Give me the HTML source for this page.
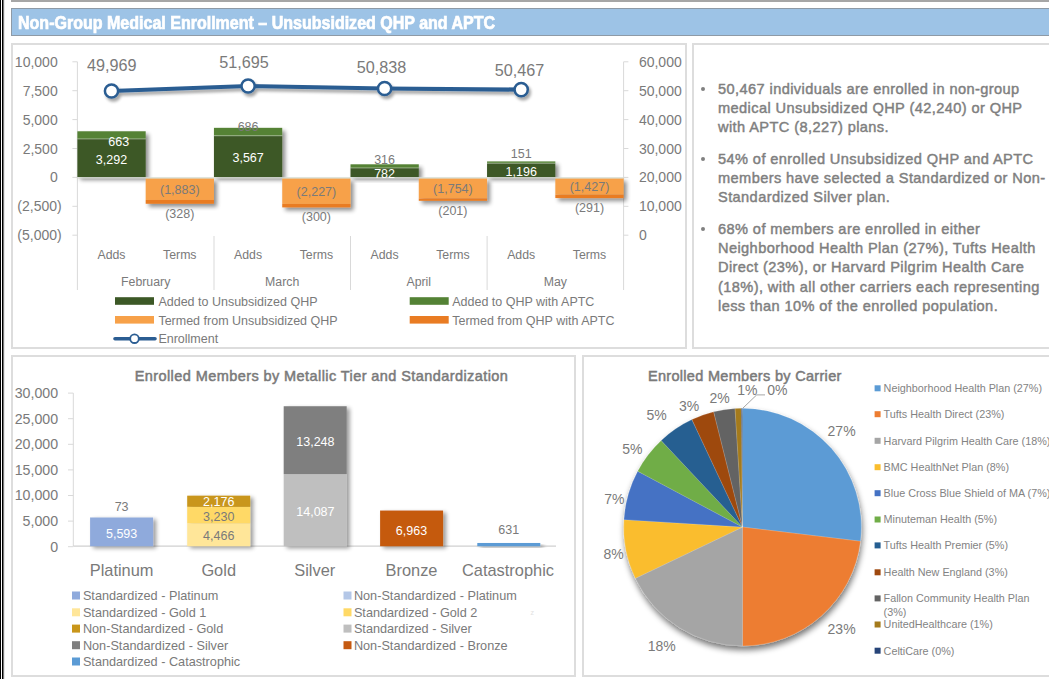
<!DOCTYPE html>
<html><head><meta charset="utf-8">
<style>
html,body{margin:0;padding:0;background:#fff;}
body{width:1049px;height:679px;position:relative;overflow:hidden;font-family:"Liberation Sans",sans-serif;}
.abs{position:absolute;}
.panel{position:absolute;border:2px solid #dddddd;box-sizing:border-box;background:#fff;}
svg text{font-family:"Liberation Sans",sans-serif;}
.bul{position:absolute;left:718px;font-weight:normal;font-size:14.6px;letter-spacing:0.4px;-webkit-text-stroke:0.45px #7f7f7f;line-height:19.2px;color:#7f7f7f;white-space:nowrap;}
</style></head>
<body>
<div class="abs" style="left:0;top:0;width:1px;height:679px;background:#000;"></div>
<div class="abs" style="left:2px;top:0;width:1px;height:679px;background:#000;"></div>
<div class="abs" style="left:3px;top:0;width:1px;height:679px;background:#7a7a7a;"></div>
<div class="abs" style="left:4px;top:0;width:1px;height:679px;background:#e8e8e8;"></div>
<div class="abs" style="left:11px;top:0;width:1038px;height:2px;background:#a6a6a6;"></div>
<div class="abs" style="left:11px;top:8px;width:1045px;height:28px;box-sizing:border-box;border:1px solid #8e9aa6;background:#9dc3e6;"></div>
<div class="abs" style="left:18px;top:13px;font-weight:bold;font-size:17.8px;line-height:20px;color:#fff;white-space:nowrap;transform-origin:0 0;transform:scaleX(0.901);-webkit-text-stroke:0.7px #fff;">Non-Group Medical Enrollment – Unsubsidized QHP and APTC</div>
<div class="panel" style="left:11px;top:43px;width:676px;height:306px;"></div>
<div class="panel" style="left:692px;top:43px;width:400px;height:306px;"></div>
<div class="panel" style="left:11px;top:355px;width:565px;height:322px;"></div>
<div class="panel" style="left:582px;top:355px;width:500px;height:322px;"></div>
<div class="abs" style="left:700px;top:81px;width:6px;height:6px;"></div>
<div class="bul" style="top:79.5px;">50,467 individuals are enrolled in non-group<br>medical Unsubsidized QHP (42,240) or QHP<br>with APTC (8,227) plans.</div>
<div class="bul" style="top:149.8px;">54% of enrolled Unsubsidized QHP and APTC<br>members have selected a Standardized or Non-<br>Standardized Silver plan.</div>
<div class="bul" style="top:220px;">68% of members are enrolled in either<br>Neighborhood Health Plan (27%), Tufts Health<br>Direct (23%), or Harvard Pilgrim Health Care<br>(18%), with all other carriers each representing<br>less than 10% of the enrolled population.</div>
<div class="abs" style="left:701px;top:87px;width:4px;height:4px;border-radius:50%;background:#808080;"></div>
<div class="abs" style="left:701px;top:157px;width:4px;height:4px;border-radius:50%;background:#808080;"></div>
<div class="abs" style="left:701px;top:227px;width:4px;height:4px;border-radius:50%;background:#808080;"></div>
<svg class="abs" style="left:0;top:0" width="1049" height="679" viewBox="0 0 1049 679">
<line x1="77.4" y1="61.8" x2="77.4" y2="290" stroke="#d9d9d9" stroke-width="1"/>
<line x1="623.6" y1="61.8" x2="623.6" y2="290" stroke="#d9d9d9" stroke-width="1"/>
<line x1="72.4" y1="61.8" x2="77.4" y2="61.8" stroke="#d9d9d9" stroke-width="1"/>
<line x1="623.6" y1="61.8" x2="628.4" y2="61.8" stroke="#d9d9d9" stroke-width="1"/>
<line x1="72.4" y1="90.7" x2="77.4" y2="90.7" stroke="#d9d9d9" stroke-width="1"/>
<line x1="623.6" y1="90.7" x2="628.4" y2="90.7" stroke="#d9d9d9" stroke-width="1"/>
<line x1="72.4" y1="119.6" x2="77.4" y2="119.6" stroke="#d9d9d9" stroke-width="1"/>
<line x1="623.6" y1="119.6" x2="628.4" y2="119.6" stroke="#d9d9d9" stroke-width="1"/>
<line x1="72.4" y1="148.5" x2="77.4" y2="148.5" stroke="#d9d9d9" stroke-width="1"/>
<line x1="623.6" y1="148.5" x2="628.4" y2="148.5" stroke="#d9d9d9" stroke-width="1"/>
<line x1="72.4" y1="177.4" x2="77.4" y2="177.4" stroke="#d9d9d9" stroke-width="1"/>
<line x1="623.6" y1="177.4" x2="628.4" y2="177.4" stroke="#d9d9d9" stroke-width="1"/>
<line x1="72.4" y1="206.3" x2="77.4" y2="206.3" stroke="#d9d9d9" stroke-width="1"/>
<line x1="623.6" y1="206.3" x2="628.4" y2="206.3" stroke="#d9d9d9" stroke-width="1"/>
<line x1="72.4" y1="235.2" x2="77.4" y2="235.2" stroke="#d9d9d9" stroke-width="1"/>
<line x1="623.6" y1="235.2" x2="628.4" y2="235.2" stroke="#d9d9d9" stroke-width="1"/>
<text x="57.7" y="66.8" font-size="14" fill="#7a7a7a" text-anchor="end">10,000</text>
<text x="57.7" y="95.7" font-size="14" fill="#7a7a7a" text-anchor="end">7,500</text>
<text x="57.7" y="124.6" font-size="14" fill="#7a7a7a" text-anchor="end">5,000</text>
<text x="57.7" y="153.5" font-size="14" fill="#7a7a7a" text-anchor="end">2,500</text>
<text x="57.7" y="182.4" font-size="14" fill="#7a7a7a" text-anchor="end">0</text>
<text x="61.7" y="211.3" font-size="14" fill="#7a7a7a" text-anchor="end">(2,500)</text>
<text x="61.7" y="240.2" font-size="14" fill="#7a7a7a" text-anchor="end">(5,000)</text>
<text x="638.9" y="66.8" font-size="14" fill="#7a7a7a">60,000</text>
<text x="638.9" y="95.7" font-size="14" fill="#7a7a7a">50,000</text>
<text x="638.9" y="124.6" font-size="14" fill="#7a7a7a">40,000</text>
<text x="638.9" y="153.5" font-size="14" fill="#7a7a7a">30,000</text>
<text x="638.9" y="182.4" font-size="14" fill="#7a7a7a">20,000</text>
<text x="638.9" y="211.3" font-size="14" fill="#7a7a7a">10,000</text>
<text x="638.9" y="240.2" font-size="14" fill="#7a7a7a">0</text>
<line x1="214.0" y1="236" x2="214.0" y2="290" stroke="#d9d9d9" stroke-width="1"/>
<line x1="350.5" y1="236" x2="350.5" y2="290" stroke="#d9d9d9" stroke-width="1"/>
<line x1="487.1" y1="236" x2="487.1" y2="290" stroke="#d9d9d9" stroke-width="1"/>
<defs><filter id="sh" x="-20%" y="-20%" width="150%" height="160%"><feGaussianBlur in="SourceAlpha" stdDeviation="2"/><feOffset dx="3" dy="3"/><feComponentTransfer><feFuncA type="linear" slope="0.45"/></feComponentTransfer><feMerge><feMergeNode/><feMergeNode in="SourceGraphic"/></feMerge></filter></defs>
<g filter="url(#sh)">
<rect x="77.40" y="138.94" width="68.28" height="38.06" fill="#3c5826"/>
<rect x="77.40" y="131.28" width="68.28" height="7.66" fill="#548235"/>
<line x1="77.40" y1="138.94" x2="145.68" y2="138.94" stroke="#ffffff" stroke-opacity="0.45" stroke-width="0.9"/>
</g><g filter="url(#sh)">
<rect x="145.68" y="178.20" width="68.28" height="21.77" fill="#f7a149"/>
<rect x="145.68" y="199.97" width="68.28" height="3.79" fill="#e97c23"/>
</g>
<g filter="url(#sh)">
<rect x="213.95" y="135.77" width="68.28" height="41.23" fill="#3c5826"/>
<rect x="213.95" y="127.84" width="68.28" height="7.93" fill="#548235"/>
<line x1="213.95" y1="135.77" x2="282.23" y2="135.77" stroke="#ffffff" stroke-opacity="0.45" stroke-width="0.9"/>
</g><g filter="url(#sh)">
<rect x="282.23" y="178.20" width="68.28" height="25.74" fill="#f7a149"/>
<rect x="282.23" y="203.94" width="68.28" height="3.47" fill="#e97c23"/>
</g>
<g filter="url(#sh)">
<rect x="350.50" y="167.96" width="68.28" height="9.04" fill="#3c5826"/>
<rect x="350.50" y="164.31" width="68.28" height="3.65" fill="#548235"/>
<line x1="350.50" y1="167.96" x2="418.77" y2="167.96" stroke="#ffffff" stroke-opacity="0.45" stroke-width="0.9"/>
</g><g filter="url(#sh)">
<rect x="418.77" y="178.20" width="68.28" height="20.28" fill="#f7a149"/>
<rect x="418.77" y="198.48" width="68.28" height="2.32" fill="#e97c23"/>
</g>
<g filter="url(#sh)">
<rect x="487.05" y="163.17" width="68.28" height="13.83" fill="#3c5826"/>
<rect x="487.05" y="161.43" width="68.28" height="1.75" fill="#548235"/>
<line x1="487.05" y1="163.17" x2="555.33" y2="163.17" stroke="#ffffff" stroke-opacity="0.45" stroke-width="0.9"/>
</g><g filter="url(#sh)">
<rect x="555.33" y="178.20" width="68.28" height="16.50" fill="#f7a149"/>
<rect x="555.33" y="194.70" width="68.28" height="3.36" fill="#e97c23"/>
</g>
<line x1="77.4" y1="177.9" x2="623.6" y2="177.9" stroke="#d6dcd2" stroke-width="1.2"/>
<text x="111.5" y="163.8" font-size="12.5" fill="#fff" text-anchor="middle">3,292</text>
<text x="179.8" y="193.7" font-size="12.5" fill="#7a7a7a" text-anchor="middle">(1,883)</text>
<text x="179.8" y="217.8" font-size="12.5" fill="#7a7a7a" text-anchor="middle">(328)</text>
<text x="248.1" y="162.2" font-size="12.5" fill="#fff" text-anchor="middle">3,567</text>
<text x="316.4" y="195.7" font-size="12.5" fill="#7a7a7a" text-anchor="middle">(2,227)</text>
<text x="316.4" y="221.4" font-size="12.5" fill="#7a7a7a" text-anchor="middle">(300)</text>
<text x="384.6" y="178.3" font-size="12.5" fill="#fff" text-anchor="middle">782</text>
<text x="452.9" y="192.9" font-size="12.5" fill="#7a7a7a" text-anchor="middle">(1,754)</text>
<text x="452.9" y="214.8" font-size="12.5" fill="#7a7a7a" text-anchor="middle">(201)</text>
<text x="521.2" y="175.9" font-size="12.5" fill="#fff" text-anchor="middle">1,196</text>
<text x="589.5" y="191.0" font-size="12.5" fill="#7a7a7a" text-anchor="middle">(1,427)</text>
<text x="589.5" y="212.1" font-size="12.5" fill="#7a7a7a" text-anchor="middle">(291)</text>
<text x="118.7" y="146.0" font-size="12.5" fill="#fff" text-anchor="middle">663</text>
<text x="248.1" y="131.0" font-size="12.5" fill="#7a7a7a" text-anchor="middle">686</text>
<text x="384.6" y="164.0" font-size="12.5" fill="#7a7a7a" text-anchor="middle">316</text>
<text x="521.2" y="158.0" font-size="12.5" fill="#7a7a7a" text-anchor="middle">151</text>
<text x="111.5" y="258.8" font-size="12.3" fill="#7a7a7a" text-anchor="middle">Adds</text>
<text x="179.8" y="258.8" font-size="12.3" fill="#7a7a7a" text-anchor="middle">Terms</text>
<text x="145.7" y="285.7" font-size="12.3" fill="#7a7a7a" text-anchor="middle">February</text>
<text x="248.1" y="258.8" font-size="12.3" fill="#7a7a7a" text-anchor="middle">Adds</text>
<text x="316.4" y="258.8" font-size="12.3" fill="#7a7a7a" text-anchor="middle">Terms</text>
<text x="282.2" y="285.7" font-size="12.3" fill="#7a7a7a" text-anchor="middle">March</text>
<text x="384.6" y="258.8" font-size="12.3" fill="#7a7a7a" text-anchor="middle">Adds</text>
<text x="452.9" y="258.8" font-size="12.3" fill="#7a7a7a" text-anchor="middle">Terms</text>
<text x="418.8" y="285.7" font-size="12.3" fill="#7a7a7a" text-anchor="middle">April</text>
<text x="521.2" y="258.8" font-size="12.3" fill="#7a7a7a" text-anchor="middle">Adds</text>
<text x="589.5" y="258.8" font-size="12.3" fill="#7a7a7a" text-anchor="middle">Terms</text>
<text x="555.3" y="285.7" font-size="12.3" fill="#7a7a7a" text-anchor="middle">May</text>
<filter id="lsh" x="-10%" y="-50%" width="120%" height="200%"><feGaussianBlur in="SourceAlpha" stdDeviation="1.5"/><feOffset dx="2" dy="3"/><feComponentTransfer><feFuncA type="linear" slope="0.35"/></feComponentTransfer><feMerge><feMergeNode/><feMergeNode in="SourceGraphic"/></feMerge></filter>
<g filter="url(#lsh)"><path d="M111.5,91.0 L248.1,86.0 L384.6,88.5 L521.2,89.6" fill="none" stroke="#2b5d92" stroke-width="4.2"/>
<circle cx="111.5" cy="91.0" r="6.6" fill="#fff" stroke="#2b5d92" stroke-width="2.5"/>
<circle cx="248.1" cy="86.0" r="6.6" fill="#fff" stroke="#2b5d92" stroke-width="2.5"/>
<circle cx="384.6" cy="88.5" r="6.6" fill="#fff" stroke="#2b5d92" stroke-width="2.5"/>
<circle cx="521.2" cy="89.6" r="6.6" fill="#fff" stroke="#2b5d92" stroke-width="2.5"/>
</g>
<text x="111.8" y="70.6" font-size="16.2" fill="#7a7a7a" text-anchor="middle">49,969</text>
<text x="244.1" y="68.1" font-size="16.2" fill="#7a7a7a" text-anchor="middle">51,695</text>
<text x="381.6" y="72.7" font-size="16.2" fill="#7a7a7a" text-anchor="middle">50,838</text>
<text x="519.4" y="75.6" font-size="16.2" fill="#7a7a7a" text-anchor="middle">50,467</text>
<rect x="115" y="297.2" width="39" height="7.6" fill="#3c5826"/>
<text x="158.4" y="305.7" font-size="12.5" fill="#7a7a7a">Added to Unsubsidized QHP</text>
<rect x="115" y="316" width="39" height="7.6" fill="#f7a149"/>
<text x="158.4" y="324.6" font-size="12.5" fill="#7a7a7a">Termed from Unsubsidized QHP</text>
<line x1="115" y1="338.7" x2="155" y2="338.7" stroke="#2b5d92" stroke-width="3.6" stroke-linecap="round"/><circle cx="134.5" cy="338.7" r="4.3" fill="#fff" stroke="#2b5d92" stroke-width="1.8"/>
<text x="158.4" y="342.6" font-size="12.5" fill="#7a7a7a">Enrollment</text>
<rect x="409.7" y="297.2" width="39" height="7.6" fill="#548235"/>
<text x="452.2" y="305.7" font-size="12.5" fill="#7a7a7a">Added to QHP with APTC</text>
<rect x="409.7" y="316" width="39" height="7.6" fill="#e97c23"/>
<text x="452.2" y="324.6" font-size="12.5" fill="#7a7a7a">Termed from QHP with APTC</text>
<line x1="73.3" y1="393.1" x2="73.3" y2="546.2" stroke="#d9d9d9" stroke-width="1"/>
<line x1="73.3" y1="546.2" x2="556" y2="546.2" stroke="#d0d0d0" stroke-width="1.2"/>
<line x1="68" y1="393.1" x2="73.3" y2="393.1" stroke="#d9d9d9" stroke-width="1"/>
<text x="58.1" y="398.0" font-size="14.2" fill="#7a7a7a" text-anchor="end">30,000</text>
<line x1="68" y1="418.7" x2="73.3" y2="418.7" stroke="#d9d9d9" stroke-width="1"/>
<text x="58.1" y="423.6" font-size="14.2" fill="#7a7a7a" text-anchor="end">25,000</text>
<line x1="68" y1="444.3" x2="73.3" y2="444.3" stroke="#d9d9d9" stroke-width="1"/>
<text x="58.1" y="449.2" font-size="14.2" fill="#7a7a7a" text-anchor="end">20,000</text>
<line x1="68" y1="469.9" x2="73.3" y2="469.9" stroke="#d9d9d9" stroke-width="1"/>
<text x="58.1" y="474.8" font-size="14.2" fill="#7a7a7a" text-anchor="end">15,000</text>
<line x1="68" y1="495.5" x2="73.3" y2="495.5" stroke="#d9d9d9" stroke-width="1"/>
<text x="58.1" y="500.4" font-size="14.2" fill="#7a7a7a" text-anchor="end">10,000</text>
<line x1="68" y1="521.1" x2="73.3" y2="521.1" stroke="#d9d9d9" stroke-width="1"/>
<text x="58.1" y="526.0" font-size="14.2" fill="#7a7a7a" text-anchor="end">5,000</text>
<line x1="68" y1="546.7" x2="73.3" y2="546.7" stroke="#d9d9d9" stroke-width="1"/>
<text x="58.1" y="551.6" font-size="14.2" fill="#7a7a7a" text-anchor="end">0</text>
<filter id="bsh" x="-20%" y="-20%" width="150%" height="150%"><feGaussianBlur in="SourceAlpha" stdDeviation="2"/><feOffset dx="3" dy="2"/><feComponentTransfer><feFuncA type="linear" slope="0.4"/></feComponentTransfer><feMerge><feMergeNode/><feMergeNode in="SourceGraphic"/></feMerge></filter>
<g filter="url(#bsh)">
<rect x="90.1" y="517.56" width="63" height="28.64" fill="#8faadc"/>
<rect x="90.1" y="517.19" width="63" height="0.37" fill="#b4c7e7"/>
</g>
<g filter="url(#bsh)">
<rect x="187.2" y="523.33" width="63" height="22.87" fill="#ffe699"/>
<rect x="187.2" y="506.80" width="63" height="16.54" fill="#ffd966"/>
<rect x="187.2" y="495.66" width="63" height="11.14" fill="#c9961a"/>
</g>
<g filter="url(#bsh)">
<rect x="283.7" y="474.07" width="63" height="72.13" fill="#bfbfbf"/>
<rect x="283.7" y="406.24" width="63" height="67.83" fill="#7f7f7f"/>
</g>
<g filter="url(#bsh)">
<rect x="380.1" y="510.55" width="63" height="35.65" fill="#c55a11"/>
</g>
<g filter="url(#bsh)">
<rect x="477.3" y="542.97" width="63" height="3.23" fill="#5b9bd5"/>
</g>
<text x="121.6" y="537.5" font-size="12.5" fill="#fff" text-anchor="middle">5,593</text>
<text x="121.6" y="511" font-size="12.5" fill="#7a7a7a" text-anchor="middle">73</text>
<text x="218.7" y="540" font-size="12.5" fill="#7a7a7a" text-anchor="middle">4,466</text>
<text x="218.7" y="520.8" font-size="12.5" fill="#7a7a7a" text-anchor="middle">3,230</text>
<text x="218.7" y="506.4" font-size="12.5" fill="#fff" text-anchor="middle">2,176</text>
<text x="315.4" y="446" font-size="12.5" fill="#fff" text-anchor="middle">13,248</text>
<text x="315.4" y="516" font-size="12.5" fill="#fff" text-anchor="middle">14,087</text>
<text x="411.5" y="534.5" font-size="12.5" fill="#fff" text-anchor="middle">6,963</text>
<text x="508.7" y="534" font-size="12.5" fill="#7a7a7a" text-anchor="middle">631</text>
<text x="121.6" y="575.6" font-size="16.4" fill="#7a7a7a" text-anchor="middle">Platinum</text>
<text x="218.7" y="575.6" font-size="16.4" fill="#7a7a7a" text-anchor="middle">Gold</text>
<text x="314.8" y="575.6" font-size="16.4" fill="#7a7a7a" text-anchor="middle">Silver</text>
<text x="411.5" y="575.6" font-size="16.4" fill="#7a7a7a" text-anchor="middle">Bronze</text>
<text x="508" y="575.6" font-size="16.4" fill="#7a7a7a" text-anchor="middle">Catastrophic</text>
<text x="321.5" y="381" font-size="14.5" letter-spacing="0.42" stroke="#7a7a7a" stroke-width="0.5" fill="#7a7a7a" text-anchor="middle">Enrolled Members by Metallic Tier and Standardization</text>
<rect x="72" y="591.5" width="8" height="8" fill="#8faadc"/><text x="82.9" y="599.9" font-size="12.7" fill="#7a7a7a">Standardized - Platinum</text>
<rect x="72" y="608.3" width="8" height="8" fill="#ffe699"/><text x="82.9" y="616.6999999999999" font-size="12.7" fill="#7a7a7a">Standardized - Gold 1</text>
<rect x="72" y="624.6" width="8" height="8" fill="#c9961a"/><text x="82.9" y="633.0" font-size="12.7" fill="#7a7a7a">Non-Standardized - Gold</text>
<rect x="72" y="641.2" width="8" height="8" fill="#7f7f7f"/><text x="82.9" y="649.6" font-size="12.7" fill="#7a7a7a">Non-Standardized - Silver</text>
<rect x="72" y="657.5" width="8" height="8" fill="#5b9bd5"/><text x="82.9" y="665.9" font-size="12.7" fill="#7a7a7a">Standardized - Catastrophic</text>
<rect x="343.5" y="591.5" width="8" height="8" fill="#b4c7e7"/><text x="353.9" y="599.9" font-size="12.7" fill="#7a7a7a">Non-Standardized - Platinum</text>
<rect x="343.5" y="608.3" width="8" height="8" fill="#ffd966"/><text x="353.9" y="616.6999999999999" font-size="12.7" fill="#7a7a7a">Standardized - Gold 2</text>
<rect x="343.5" y="624.6" width="8" height="8" fill="#bfbfbf"/><text x="353.9" y="633.0" font-size="12.7" fill="#7a7a7a">Standardized - Silver</text>
<rect x="343.5" y="641.2" width="8" height="8" fill="#c55a11"/><text x="353.9" y="649.6" font-size="12.7" fill="#7a7a7a">Non-Standardized - Bronze</text>
<filter id="psh" x="-20%" y="-20%" width="140%" height="140%"><feGaussianBlur in="SourceAlpha" stdDeviation="3.2"/><feOffset dx="1" dy="4"/><feComponentTransfer><feFuncA type="linear" slope="0.55"/></feComponentTransfer><feMerge><feMergeNode/><feMergeNode in="SourceGraphic"/></feMerge></filter>
<g filter="url(#psh)">
<path d="M742.5,527.1 L742.50,408.30 A118.8,118.8 0 0 1 860.45,541.25 Z" fill="#5b9bd5" stroke="#fff" stroke-width="0.3" stroke-opacity="0.5"/>
<path d="M742.5,527.1 L860.45,541.25 A118.8,118.8 0 0 1 742.50,645.90 Z" fill="#ed7d31" stroke="#fff" stroke-width="0.3" stroke-opacity="0.5"/>
<path d="M742.5,527.1 L742.50,645.90 A118.8,118.8 0 0 1 635.33,578.36 Z" fill="#a5a5a5" stroke="#fff" stroke-width="0.3" stroke-opacity="0.5"/>
<path d="M742.5,527.1 L635.33,578.36 A118.8,118.8 0 0 1 623.93,519.64 Z" fill="#fabd2d" stroke="#fff" stroke-width="0.3" stroke-opacity="0.5"/>
<path d="M742.5,527.1 L623.93,519.64 A118.8,118.8 0 0 1 637.68,471.18 Z" fill="#4472c4" stroke="#fff" stroke-width="0.3" stroke-opacity="0.5"/>
<path d="M742.5,527.1 L637.68,471.18 A118.8,118.8 0 0 1 661.18,440.50 Z" fill="#70ad47" stroke="#fff" stroke-width="0.3" stroke-opacity="0.5"/>
<path d="M742.5,527.1 L661.18,440.50 A118.8,118.8 0 0 1 691.92,419.61 Z" fill="#255e91" stroke="#fff" stroke-width="0.3" stroke-opacity="0.5"/>
<path d="M742.5,527.1 L691.92,419.61 A118.8,118.8 0 0 1 713.68,411.85 Z" fill="#9e480e" stroke="#fff" stroke-width="0.3" stroke-opacity="0.5"/>
<path d="M742.5,527.1 L713.68,411.85 A118.8,118.8 0 0 1 735.04,408.53 Z" fill="#636363" stroke="#fff" stroke-width="0.3" stroke-opacity="0.5"/>
<path d="M742.5,527.1 L735.04,408.53 A118.8,118.8 0 0 1 741.38,408.31 Z" fill="#a47a1c" stroke="#fff" stroke-width="0.3" stroke-opacity="0.5"/>
<path d="M742.5,527.1 L741.38,408.31 A118.8,118.8 0 0 1 742.50,408.30 Z" fill="#264478" stroke="#fff" stroke-width="0.3" stroke-opacity="0.5"/>
</g>
<text x="841.6" y="436.4" font-size="14" fill="#7a7a7a" text-anchor="middle">27%</text>
<text x="841.6" y="633.5" font-size="14" fill="#7a7a7a" text-anchor="middle">23%</text>
<text x="661.7" y="650.8" font-size="14" fill="#7a7a7a" text-anchor="middle">18%</text>
<text x="613.7" y="559.3" font-size="14" fill="#7a7a7a" text-anchor="middle">8%</text>
<text x="614.3" y="503.7" font-size="14" fill="#7a7a7a" text-anchor="middle">7%</text>
<text x="632.3" y="453.7" font-size="14" fill="#7a7a7a" text-anchor="middle">5%</text>
<text x="656.6" y="420.2" font-size="14" fill="#7a7a7a" text-anchor="middle">5%</text>
<text x="689.2" y="410.8" font-size="14" fill="#7a7a7a" text-anchor="middle">3%</text>
<text x="719.5" y="403" font-size="14" fill="#7a7a7a" text-anchor="middle">2%</text>
<text x="747.3" y="394.5" font-size="14" fill="#7a7a7a" text-anchor="middle">1%</text>
<text x="777.3" y="395" font-size="14" fill="#7a7a7a" text-anchor="middle">0%</text>
<polyline points="743,408 756.7,394.9 765,394.9" fill="none" stroke="#a6a6a6" stroke-width="1"/>
<text x="744.8" y="380.6" font-size="14.5" letter-spacing="0.31" stroke="#7a7a7a" stroke-width="0.5" fill="#7a7a7a" text-anchor="middle">Enrolled Members by Carrier</text>
<rect x="874.6" y="385.3" width="6" height="6" fill="#5b9bd5"/><text x="883.6" y="392.1" font-size="10.8" fill="#838383">Neighborhood Health Plan (27%)</text>
<rect x="874.6" y="411.2" width="6" height="6" fill="#ed7d31"/><text x="883.6" y="418.0" font-size="10.8" fill="#838383">Tufts Health Direct (23%)</text>
<rect x="874.6" y="437.8" width="6" height="6" fill="#a5a5a5"/><text x="883.6" y="444.6" font-size="10.8" fill="#838383">Harvard Pilgrim Health Care (18%)</text>
<rect x="874.6" y="464.2" width="6" height="6" fill="#fabd2d"/><text x="883.6" y="471.0" font-size="10.8" fill="#838383">BMC HealthNet Plan (8%)</text>
<rect x="874.6" y="490.2" width="6" height="6" fill="#4472c4"/><text x="883.6" y="497.0" font-size="10.8" fill="#838383">Blue Cross Blue Shield of MA (7%)</text>
<rect x="874.6" y="516.5" width="6" height="6" fill="#70ad47"/><text x="883.6" y="523.3" font-size="10.8" fill="#838383">Minuteman Health (5%)</text>
<rect x="874.6" y="542.4" width="6" height="6" fill="#255e91"/><text x="883.6" y="549.1999999999999" font-size="10.8" fill="#838383">Tufts Health Premier (5%)</text>
<rect x="874.6" y="569.3" width="6" height="6" fill="#9e480e"/><text x="883.6" y="576.0999999999999" font-size="10.8" fill="#838383">Health New England (3%)</text>
<rect x="874.6" y="595.4" width="6" height="6" fill="#636363"/><text x="883.6" y="602.1999999999999" font-size="10.8" fill="#838383">Fallon Community Health Plan</text>
<rect x="874.6" y="621.5" width="6" height="6" fill="#a47a1c"/><text x="883.6" y="628.3" font-size="10.8" fill="#838383">UnitedHealthcare (1%)</text>
<rect x="874.6" y="647.7" width="6" height="6" fill="#264478"/><text x="883.6" y="654.5" font-size="10.8" fill="#838383">CeltiCare (0%)</text>
<text x="883.6" y="615.8" font-size="10.8" fill="#838383">(3%)</text>
<text x="530.5" y="614.5" font-size="7" fill="#e2e2e2">z</text>
</svg>
</body></html>
